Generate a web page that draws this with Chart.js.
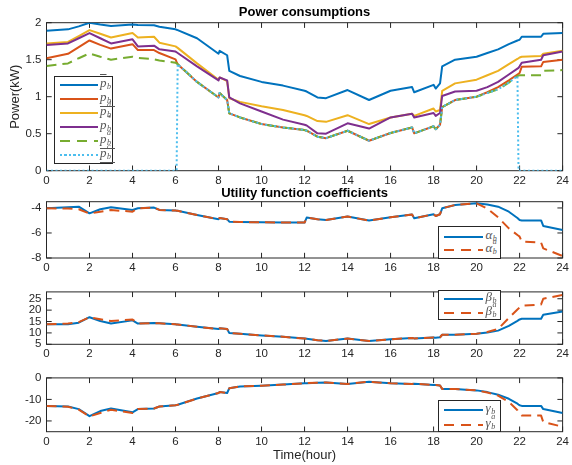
<!DOCTYPE html>
<html><head><meta charset="utf-8">
<script src="https://cdn.jsdelivr.net/npm/chart.js@4.4.0/dist/chart.umd.min.js"></script>
<style>
html,body{margin:0;padding:0;background:#fff;}
#wrap{position:relative;width:572px;height:465px;overflow:hidden;background:#fff;}
canvas{position:absolute;left:0;}
.leg{position:absolute;background:#fff;border:1px solid #262626;box-sizing:border-box;}
.ln{position:absolute;height:2px;}
.lab{position:absolute;font-family:"Liberation Serif","DejaVu Serif",serif;font-size:13px;color:#555;white-space:nowrap;line-height:12px;height:12px;}
.lab i{font-style:italic;}
.ss{display:inline-block;position:relative;width:7px;height:10px;vertical-align:baseline;margin-left:0.5px;}
.ss .u,.ss .d{position:absolute;left:0;font-size:8px;line-height:8px;font-style:italic;}
.ss .u{top:-4px;}
.ss .d{top:6px;}
.ov{text-decoration:overline;}
.un{display:inline-block;border-bottom:1px solid #555;line-height:12px;height:15px;padding-right:1px;}
</style>
</head><body>
<div id="wrap">
<canvas id="c1"></canvas><canvas id="c2"></canvas><canvas id="c3"></canvas><canvas id="c4"></canvas>
</div>
<script>
// ---- data ----
const hours = [0,1,1.5,2,2.5,3,4,4.25,5,5.25,6,6.05,6.1,7,8,8.05,8.4,8.5,9,10,11,12,12.1,12.6,13,14,15,16,17,17.1,18,18.1,18.3,18.4,19,20,20.5,21,21.5,21.9,21.95,22,22.1,23,23.1,24];
const pMax  = [1.89,1.91,1.95,2.00,1.975,1.955,1.975,1.97,1.965,1.945,1.91,1.905,1.90,1.79,1.58,1.62,1.56,1.35,1.28,1.20,1.15,1.08,1.07,0.99,0.98,1.09,0.955,1.08,1.13,1.06,1.16,1.11,1.18,1.41,1.50,1.54,1.59,1.64,1.71,1.76,1.765,1.77,1.81,1.81,1.85,1.86];
const pMin  = [1.52,1.58,1.67,1.76,1.70,1.65,1.71,1.63,1.63,1.59,1.505,1.47,1.44,1.20,0.99,1.05,0.955,0.775,0.72,0.63,0.585,0.55,0.54,0.46,0.44,0.54,0.405,0.51,0.585,0.505,0.60,0.56,0.62,0.86,0.955,1.00,1.06,1.13,1.22,1.30,1.31,1.32,1.405,1.41,1.47,1.50];
const pD    = [1.72,1.74,1.82,1.90,1.85,1.80,1.86,1.80,1.81,1.73,1.68,1.67,1.66,1.45,1.23,1.26,1.21,0.98,0.93,0.87,0.82,0.75,0.74,0.67,0.66,0.75,0.63,0.72,0.77,0.74,0.84,0.80,0.82,1.08,1.18,1.23,1.29,1.35,1.44,1.51,1.52,1.53,1.54,1.55,1.58,1.62];
const pStar = [1.70,1.72,1.79,1.86,1.79,1.72,1.775,1.68,1.69,1.64,1.61,1.60,1.59,1.41,1.22,1.26,1.22,0.99,0.91,0.80,0.69,0.62,0.61,0.505,0.50,0.64,0.57,0.72,0.77,0.72,0.78,0.74,0.78,1.01,1.07,1.08,1.13,1.20,1.30,1.38,1.39,1.41,1.46,1.50,1.56,1.61];
const pA    = [1.415,1.45,1.52,1.585,1.54,1.50,1.54,1.525,1.505,1.49,1.46,1.45,1.44,1.20,0.99,1.05,0.955,0.775,0.72,0.63,0.585,0.55,0.54,0.46,0.44,0.54,0.405,0.51,0.585,0.505,0.60,0.56,0.62,0.86,0.955,1.00,1.05,1.10,1.19,1.28,1.285,1.29,1.29,1.29,1.35,1.36];
const pC    = [0,0,0,0,0,0,0,0,0,0,0,0,1.44,1.20,0.99,1.05,0.955,0.775,0.72,0.63,0.585,0.55,0.54,0.46,0.44,0.54,0.405,0.51,0.585,0.505,0.60,0.56,0.62,0.86,0.955,1.00,1.05,1.10,1.19,1.28,0,0,0,0,0,0];
const alphaB = [-4.03,-3.95,-3.9,-4.43,-4.1,-3.95,-4.16,-4.03,-3.97,-4.16,-4.21,-4.22,-4.23,-4.56,-4.9,-4.8,-4.9,-5.1,-5.12,-5.15,-5.16,-5.17,-4.77,-4.9,-4.96,-4.69,-5.01,-4.75,-4.53,-4.83,-4.5,-4.64,-4.5,-4.03,-3.76,-3.63,-3.72,-3.9,-4.3,-4.8,-4.88,-4.96,-5.0,-5.0,-5.44,-5.76];
const alphaA = [-4.03,-4.05,-4.1,-4.45,-4.3,-4.16,-4.3,-4.03,-3.97,-4.16,-4.21,-4.22,-4.23,-4.56,-4.9,-4.8,-4.9,-5.1,-5.12,-5.15,-5.16,-5.17,-4.77,-4.9,-4.96,-4.69,-5.01,-4.75,-4.53,-4.83,-4.5,-4.64,-4.5,-4.03,-3.76,-3.63,-4.05,-4.75,-5.63,-6.16,-6.22,-6.29,-6.69,-6.77,-7.23,-7.84];
const betaB  = [13.8,13.8,14.5,16.9,15.2,14.1,15.5,14.1,14.3,14.2,13.8,13.7,13.7,12.7,11.7,12.0,11.7,10.0,9.6,8.9,8.3,7.5,7.4,6.8,6.5,7.5,6.4,7.2,7.8,7.6,8.0,7.9,8.1,9.2,9.2,9.6,10.2,11.0,13.1,15.3,15.6,15.9,16.2,16.2,18.0,19.4];
const betaA  = [13.8,14.1,14.7,16.9,16.0,15.2,15.9,14.1,14.3,14.2,13.8,13.7,13.7,12.7,11.7,12.0,11.7,10.0,9.6,8.9,8.3,7.5,7.4,6.8,6.5,7.5,6.4,7.2,7.8,7.6,8.0,7.9,8.1,9.2,9.2,9.6,10.4,11.7,16.6,20.3,20.7,21.1,21.9,22.5,25.0,26.7];
const gammaB = [-13.0,-13.3,-14.5,-17.8,-15.4,-14.2,-16.0,-14.5,-14.2,-13.3,-12.7,-12.6,-12.5,-9.6,-7.0,-6.6,-7.0,-4.8,-4.0,-3.6,-3.1,-2.5,-2.45,-2.2,-2.1,-2.8,-1.8,-2.5,-2.8,-2.7,-3.3,-3.3,-3.5,-5.1,-5.2,-5.8,-6.6,-7.8,-9.7,-12.0,-12.4,-12.7,-13.0,-13.0,-14.5,-16.3];
const gammaA = [-13.0,-13.4,-14.7,-17.9,-16.3,-14.8,-16.3,-14.5,-14.2,-13.3,-12.7,-12.6,-12.5,-9.6,-7.0,-6.6,-7.0,-4.8,-4.0,-3.6,-3.1,-2.5,-2.45,-2.2,-2.1,-2.8,-1.8,-2.5,-2.8,-2.7,-3.3,-3.3,-3.5,-5.1,-5.2,-5.8,-6.8,-8.2,-11.2,-15.0,-15.8,-16.7,-17.5,-17.5,-20.5,-22.7];

const xTicks = [0,2,4,6,8,10,12,14,16,18,20,22,24];
const powerTicks = [0,0.5,1,1.5,2];
const alphaTicks = [-8,-6,-4];
const betaTicks = [5,10,15,20,25];
const gammaTicks = [-20,-10,0];

// ---- styling ----
const COL = {blue:'#0072BD', orange:'#D95319', yellow:'#EDB120', purple:'#7E2F8E', green:'#77AC30', cyan:'#4DBEEE'};
const DASH = [10,6], DOT = [2,2.5];
const AX = '#262626';
const SANS = '"Liberation Sans", Arial, Helvetica, sans-serif';

function pts(vals){ return vals.map((v,i)=>({x:hours[i], y:v})); }
function ds(label, vals, color, dash, order){
  return {label, data:pts(vals), borderColor:color, backgroundColor:color, borderWidth:2,
    borderDash:dash||[], pointRadius:0, fill:false, tension:0, order, borderCapStyle:'butt', borderJoinStyle:'round'};
}

const boxPlugin = {
  id:'mbox',
  beforeDatasetsDraw(chart){
    const {ctx, chartArea:a, scales:{x,y}} = chart;
    ctx.save(); ctx.strokeStyle=AX; ctx.lineWidth=1;
    ctx.strokeRect(a.left, a.top, a.right-a.left, a.bottom-a.top);
    const L = 5.2;
    ctx.beginPath();
    x.ticks.forEach(t=>{const p=x.getPixelForValue(t.value); ctx.moveTo(p,a.bottom); ctx.lineTo(p,a.bottom-L); ctx.moveTo(p,a.top); ctx.lineTo(p,a.top+L);});
    y.ticks.forEach(t=>{const p=y.getPixelForValue(t.value); ctx.moveTo(a.left,p); ctx.lineTo(a.left+L,p); ctx.moveTo(a.right,p); ctx.lineTo(a.right-L,p);});
    ctx.stroke(); ctx.restore();
  }
};

function make(id, top, height, c){
  const cv = document.getElementById(id);
  cv.width = 572; cv.height = height; cv.style.top = top+'px';
  const tickFont = {family:SANS, size:11.5};
  return new Chart(cv, {
    type:'line',
    data:{datasets:c.datasets},
    options:{
      responsive:false, animation:false, devicePixelRatio:1,
      layout:{padding:{left:0, right:5.5, top:c.padTop||0, bottom:0}},
      plugins:{
        legend:{display:false}, tooltip:{enabled:false},
        title: c.title ? {display:true, text:c.title, fullSize:false, color:'#000',
          font:{family:SANS, size:13, weight:'bold', lineHeight:1.2}, padding:{top:c.tTop, bottom:c.tBot}} : {display:false}
      },
      scales:{
        x:{type:'linear', min:0, max:24, grid:{display:false, drawTicks:false}, border:{display:false},
          afterBuildTicks:s=>{s.ticks = xTicks.map(v=>({value:v}));},
          afterFit:s=>{s.height = c.xH;},
          ticks:{autoSkip:false, maxRotation:0, minRotation:0, padding:3, color:AX, font:tickFont, callback:v=>String(v)},
          title: c.xTitle ? {display:true, text:c.xTitle, color:AX, font:{family:SANS, size:13, lineHeight:1.2}, padding:{top:0, bottom:2.2}} : {display:false}
        },
        y:{type:'linear', min:c.yMin, max:c.yMax, grid:{display:false, drawTicks:false}, border:{display:false},
          afterBuildTicks:s=>{s.ticks = c.yTicks.map(v=>({value:v}));},
          afterFit:s=>{s.width = 46.5;},
          ticks:{autoSkip:false, padding:5, color:AX, font:tickFont, callback:v=>String(v)},
          title: c.yTitle ? {display:true, text:c.yTitle, color:AX, font:{family:SANS, size:13, lineHeight:1.2}, padding:{top:7.2, bottom:0}} : {display:false}
        }
      }
    },
    plugins:[boxPlugin]
  });
}

make('c1', 0, 190, {
  title:'Power consumptions', tTop:4.2, tBot:2.9, xH:19.3, yMin:0, yMax:2, yTicks:powerTicks, yTitle:'Power(kW)',
  datasets:[
    ds('pmax', pMax, COL.blue, null, 5),
    ds('pmin', pMin, COL.orange, null, 4),
    ds('pd', pD, COL.yellow, null, 3),
    ds('pstar', pStar, COL.purple, null, 2),
    ds('pa', pA, COL.green, DASH, 1),
    ds('pc', pC, COL.cyan, DOT, 0)
  ]
});
make('c2', 185, 88, {
  title:'Utility function coefficients', tTop:0.5, tBot:0.6, xH:15, yMin:-8, yMax:-3.5, yTicks:alphaTicks,
  datasets:[ ds('alpha_b', alphaB, COL.blue, null, 1), ds('alpha_b^a', alphaA, COL.orange, DASH, 0) ]
});
make('c3', 280, 80, {
  padTop:9.3, xH:15.7, yMin:5, yMax:28, yTicks:betaTicks,
  datasets:[ ds('beta_b', betaB, COL.blue, null, 1), ds('beta_b^a', betaA, COL.orange, DASH, 0) ]
});
make('c4', 366, 99, {
  padTop:9.7, xH:33.3, yMin:-25, yMax:0, yTicks:gammaTicks, xTitle:'Time(hour)',
  datasets:[ ds('gamma_b', gammaB, COL.blue, null, 1), ds('gamma_b^a', gammaA, COL.orange, DASH, 0) ]
});

// ---- legends (HTML text) ----
function ss(sup, sub){ return '<span class="ss"><span class="u">'+(sup||'')+'</span><span class="d">'+sub+'</span></span>'; }
function lineStyle(color, kind){
  if(kind==='dash') return 'background:repeating-linear-gradient(to right,'+color+' 0 10px,transparent 10px 17px);';
  if(kind==='dot') return 'background:repeating-linear-gradient(to right,'+color+' 0 2px,transparent 2px 4.5px);';
  return 'background:'+color+';';
}
function legend(box, rows){
  const d = document.createElement('div'); d.className='leg';
  d.style.left=box.x+'px'; d.style.top=box.y+'px'; d.style.width=box.w+'px'; d.style.height=box.h+'px';
  rows.forEach((r,i)=>{
    const l = document.createElement('div'); l.className='ln';
    l.style.cssText += 'left:'+box.lx+'px;width:'+box.lw+'px;top:'+(box.rows[i]-1)+'px;'+lineStyle(r.color, r.kind);
    d.appendChild(l);
    const t = document.createElement('div'); t.className='lab';
    t.style.left = box.tx+'px'; t.style.top = (box.rows[i]-8)+'px';
    t.innerHTML = r.html;
    d.appendChild(t);
  });
  document.getElementById('wrap').appendChild(d);
}
legend({x:54, y:76, w:59, h:88, lx:5, lw:38, tx:45, rows:[7.5,22,35.5,49.5,63.5,77.5]}, [
  {color:COL.blue, kind:'solid', html:'<i class="ov">p</i>'+ss('', 'b')},
  {color:COL.orange, kind:'solid', html:'<span class="un"><i>p</i>'+ss('', 'b')+'</span>'},
  {color:COL.yellow, kind:'solid', html:'<i>p</i>'+ss('d','b')},
  {color:COL.purple, kind:'solid', html:'<i>p</i>'+ss('*','b')},
  {color:COL.green, kind:'dash', html:'<span class="un"><i>p</i>'+ss('a','b')+'</span>'},
  {color:COL.cyan, kind:'dot', html:'<span class="un"><i>p</i>'+ss('c','b')+'</span>'}
]);
legend({x:437.5, y:226, w:63.5, h:32.5, lx:5, lw:39, tx:47, rows:[9.5,23]}, [
  {color:COL.blue, kind:'solid', html:'<i>α</i>'+ss('', 'b')},
  {color:COL.orange, kind:'dash', html:'<i>α</i>'+ss('a','b')}
]);
legend({x:437.5, y:290, w:63.5, h:30, lx:5, lw:39, tx:47, rows:[8,21.5]}, [
  {color:COL.blue, kind:'solid', html:'<i>β</i>'+ss('', 'b')},
  {color:COL.orange, kind:'dash', html:'<i>β</i>'+ss('a','b')}
]);
legend({x:437.5, y:400, w:63.5, h:32, lx:5, lw:39, tx:47, rows:[9,24]}, [
  {color:COL.blue, kind:'solid', html:'<i>γ</i>'+ss('', 'b')},
  {color:COL.orange, kind:'dash', html:'<i>γ</i>'+ss('a','b')}
]);
</script>
</body></html>
